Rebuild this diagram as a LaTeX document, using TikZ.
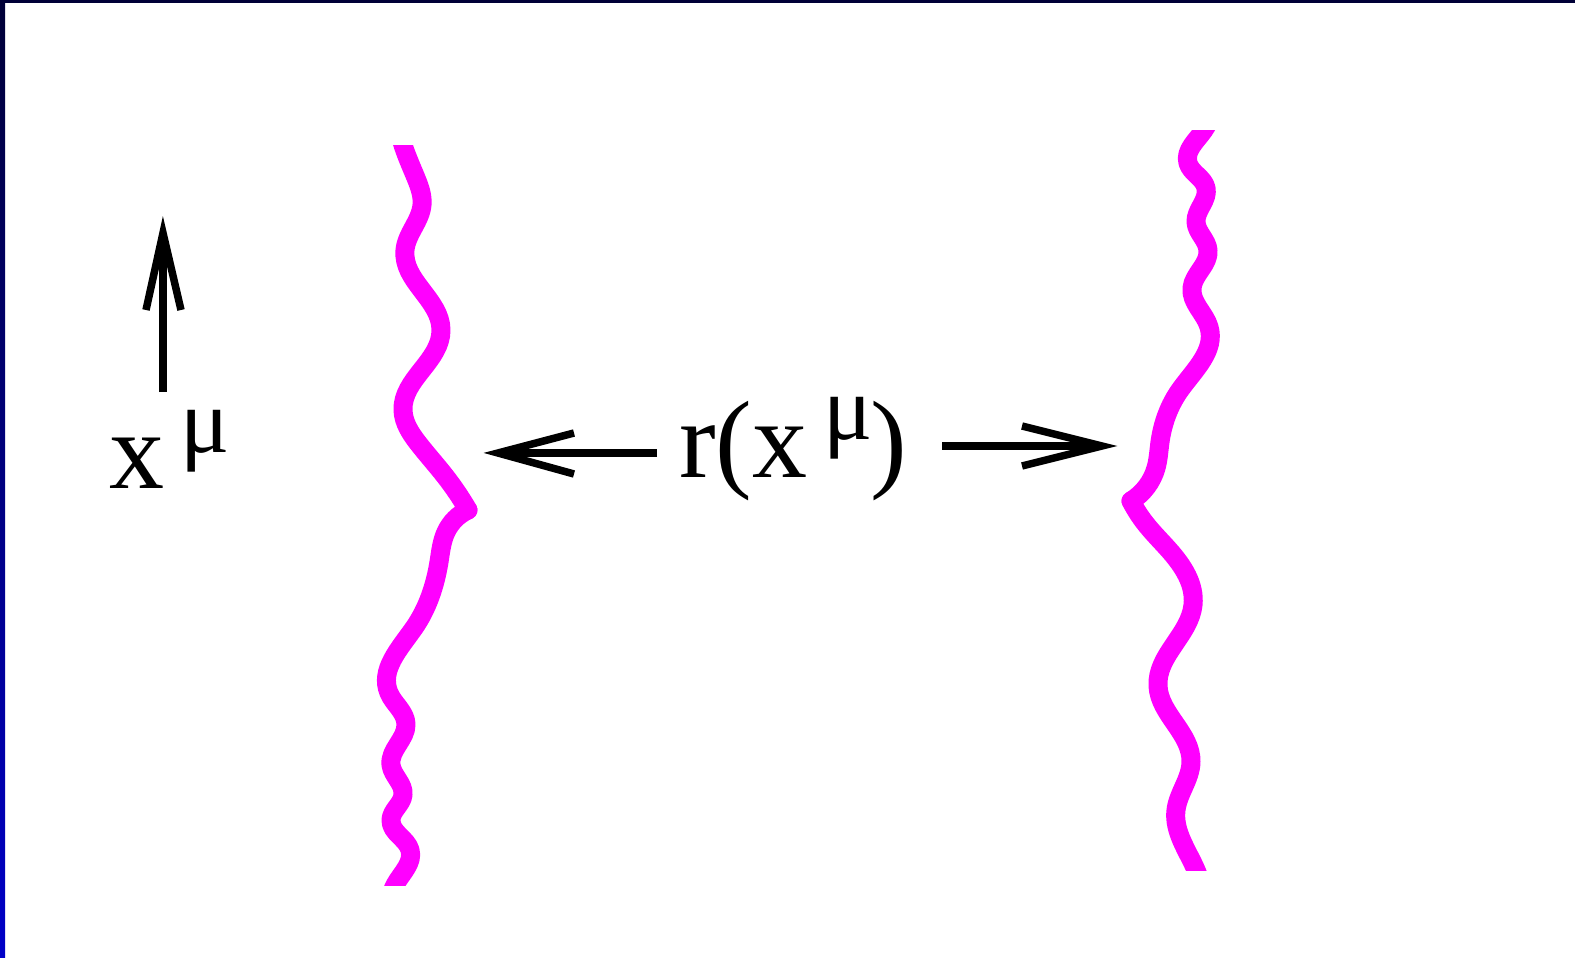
\documentclass[tikz,border=0pt]{standalone}
\usepackage{fontspec}
\setmainfont{Liberation Serif}
\usetikzlibrary{hobby}
\definecolor{navy}{RGB}{0,0,55}
\definecolor{borderblue}{RGB}{0,0,200}
\definecolor{wavecol}{RGB}{255,0,255}
\tikzset{
  wave/.style={draw=wavecol, line width=9.5pt, line join=round, line cap=round, use Hobby shortcut},
  arrowline/.style={draw=black, line width=3.75pt},
  barbs/.style={draw=black, line width=3.75pt, line join=miter, miter limit=30},
  lab/.style={inner sep=0pt, outer sep=0pt, font=\fontsize{55}{60}\selectfont},
}
\newcommand{\mufnt}{\fontsize{46}{46}\selectfont}
\begin{document}
\begin{tikzpicture}[x=0.5pt,y=-0.5pt]
\useasboundingbox (0,0) rectangle (1575,958);
\fill[white] (0,0) rectangle (1575,958);
% frame
\fill[navy] (0,0) rectangle (1575,3);
\shade[top color=navy, bottom color=borderblue] (0,0) rectangle (5,958);

% left wavy line
\begin{scope}
\clip (300,145) rectangle (520,885);
\draw[wave] (398,125) .. (403,145) .. (416,178) .. (422,205) .. (405,250) .. (441,330)
  .. (403,410) .. (418,443) .. (445,476) .. (468,510);
\draw[wave] (468,510) .. (446,532) .. (439,562) .. (414,628) .. (389,693)
  .. (406,724) .. (391,765) .. (403,795) .. (391,820)
  .. (410,850) .. (395,885) .. (391,897);
\end{scope}

% right wavy line
\begin{scope}
\clip (1050,130) rectangle (1300,870);
\draw[wave] (1210,117) .. (1204,130) .. (1188,163) .. (1206,188) .. (1196,222)
  .. (1208,250) .. (1192,288) .. (1209,327) .. (1180,390) .. (1160,442)
  .. (1156,468) .. (1131,501);
\draw[wave] (1131,501) .. (1145,523) .. (1169,550) .. (1193,605) .. (1158,686)
  .. (1191,762) .. (1176,810) .. (1196,870) .. (1201,884);
\end{scope}

% vertical arrow
\coordinate (vb) at (163,392);
\coordinate (vt) at (163,233);
\coordinate (vl) at (146,310);
\coordinate (vr) at (181,310);
\draw[arrowline] (vb) -- (vt);
\draw[barbs] (vl) -- (vt) -- (vr);

% labels
\node[lab, anchor=base west] (xmu) at (109,488)
  {x\kern8pt\raisebox{18pt}{\mufnt μ}};
\node[lab, anchor=base west] (rx) at (679,477)
  {r(x\kern8pt\raisebox{19pt}{\mufnt μ}\kern-1pt)};

% left arrow
\coordinate (ls) at (657,453);
\coordinate (lt) at (498,453);
\coordinate (lu) at (574,433);
\coordinate (ld) at (574,474);
\draw[arrowline] (ls) -- (lt);
\draw[barbs] (lu) -- (lt) -- (ld);

% right arrow
\coordinate (rs) at (942,446);
\coordinate (rt) at (1102,446);
\coordinate (ru) at (1022,426);
\coordinate (rd) at (1022,466);
\draw[arrowline] (rs) -- (rt);
\draw[barbs] (ru) -- (rt) -- (rd);
\end{tikzpicture}
\end{document}
